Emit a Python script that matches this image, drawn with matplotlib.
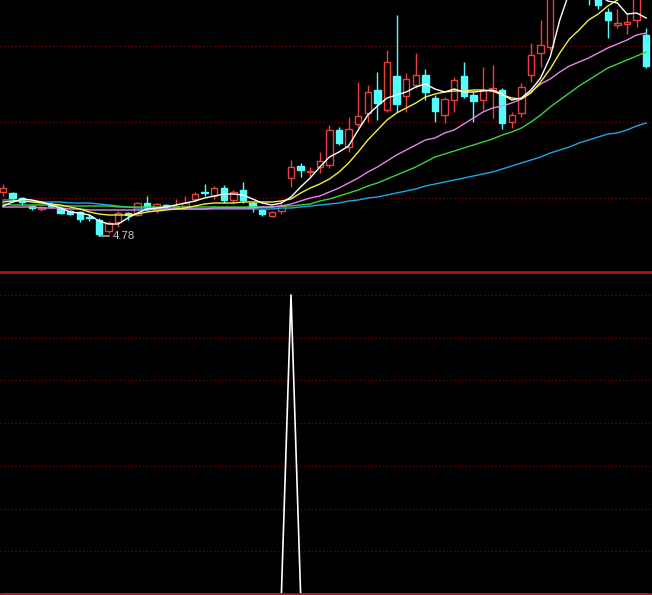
import numpy as np
import matplotlib.pyplot as plt
from matplotlib.patches import Rectangle

# daily bars (price)
opens = [5.66, 5.64, 5.54, 5.38, 5.32, 5.40, 5.34, 5.28, 5.26, 5.16,
         5.10, 4.88, 5.06, 5.24, 5.20, 5.44, 5.30, 5.40, 5.36, 5.38,
         5.52, 5.66, 5.58, 5.74, 5.50, 5.70, 5.44, 5.30, 5.18, 5.28,
         5.94, 6.18, 6.06, 6.16, 6.20, 6.90, 6.56, 7.02, 7.24, 7.70,
         7.30, 7.98, 7.58, 7.80, 8.00, 7.54, 7.20, 7.50, 7.98, 7.60,
         7.50, 7.68, 7.70, 7.06, 7.24, 8.00, 8.44, 8.56, 9.70, 10.30,
         9.90, 10.10, 9.56, 9.26, 9.00, 9.02, 9.10, 8.80]
closes = [5.74, 5.54, 5.46, 5.34, 5.36, 5.38, 5.24, 5.22, 5.12, 5.14,
          4.82, 5.04, 5.24, 5.20, 5.44, 5.32, 5.42, 5.36, 5.38, 5.44,
          5.62, 5.64, 5.74, 5.50, 5.66, 5.50, 5.36, 5.22, 5.26, 5.38,
          6.16, 6.10, 6.08, 6.28, 6.90, 6.64, 6.92, 7.18, 7.66, 7.44,
          8.26, 7.42, 7.92, 8.00, 7.66, 7.28, 7.52, 7.90, 7.58, 7.48,
          7.70, 7.74, 7.04, 7.20, 7.76, 8.40, 8.60, 9.70, 10.50, 9.90,
          10.40, 9.70, 9.40, 9.10, 9.04, 9.06, 9.60, 8.18]
highs = [5.82, 5.66, 5.56, 5.40, 5.38, 5.46, 5.36, 5.30, 5.28, 5.22,
         5.14, 5.08, 5.28, 5.26, 5.46, 5.58, 5.44, 5.42, 5.52, 5.58,
         5.66, 5.82, 5.78, 5.80, 5.70, 5.86, 5.46, 5.32, 5.28, 5.44,
         6.30, 6.24, 6.16, 6.46, 7.00, 6.96, 7.16, 7.86, 7.80, 8.06,
         8.50, 9.20, 8.04, 8.44, 8.12, 7.60, 7.56, 7.96, 8.26, 7.66,
         8.16, 8.20, 7.74, 7.26, 7.84, 8.64, 9.10, 9.90, 10.70, 10.70,
         10.60, 10.30, 9.70, 9.34, 9.32, 9.24, 9.70, 8.94]
lows = [5.58, 5.46, 5.40, 5.30, 5.28, 5.34, 5.22, 5.20, 5.06, 5.08,
        4.78, 4.84, 4.96, 5.10, 5.18, 5.28, 5.24, 5.34, 5.34, 5.34,
        5.46, 5.58, 5.52, 5.44, 5.44, 5.44, 5.26, 5.18, 5.16, 5.22,
        5.76, 5.96, 5.96, 6.04, 6.14, 6.60, 6.46, 6.96, 7.06, 7.10,
        7.26, 7.26, 7.26, 7.74, 7.50, 7.06, 7.04, 7.26, 7.54, 7.06,
        7.30, 7.14, 6.92, 6.94, 7.16, 7.86, 8.16, 8.50, 9.60, 9.74,
        9.70, 9.40, 9.32, 8.74, 8.94, 8.82, 8.96, 8.14]

# moving averages
ma5 = [5.38, 5.46, 5.52, 5.50, 5.46, 5.40, 5.34, 5.26, 5.24, 5.20,
       5.08, 5.02, 5.02, 5.14, 5.24, 5.32, 5.34, 5.36, 5.40, 5.44,
       5.48, 5.54, 5.58, 5.62, 5.62, 5.60, 5.52, 5.44, 5.40, 5.44,
       5.56, 5.76, 5.94, 6.16, 6.36, 6.46, 6.58, 6.90, 7.20, 7.38,
       7.54, 7.60, 7.66, 7.76, 7.82, 7.72, 7.66, 7.72, 7.66, 7.66,
       7.68, 7.70, 7.62, 7.50, 7.54, 7.70, 7.94, 8.36, 9.10, 9.66,
       9.90, 9.74, 9.60, 9.48, 9.44, 9.22, 9.24, 9.14]
ma10 = [5.46, 5.48, 5.48, 5.46, 5.44, 5.42, 5.40, 5.36, 5.32, 5.26,
        5.22, 5.20, 5.20, 5.20, 5.22, 5.26, 5.28, 5.30, 5.32, 5.34,
        5.38, 5.42, 5.44, 5.44, 5.44, 5.46, 5.46, 5.46, 5.46, 5.48,
        5.52, 5.64, 5.74, 5.82, 5.92, 6.06, 6.24, 6.46, 6.70, 6.90,
        7.10, 7.24, 7.34, 7.44, 7.56, 7.62, 7.66, 7.68, 7.68, 7.70,
        7.70, 7.68, 7.60, 7.54, 7.52, 7.64, 7.86, 8.12, 8.44, 8.72,
        8.90, 9.10, 9.22, 9.38, 9.50, 9.58, 9.66, 9.70]
ma20 = [5.36, 5.36, 5.36, 5.36, 5.34, 5.34, 5.34, 5.32, 5.32, 5.30,
        5.30, 5.30, 5.30, 5.30, 5.30, 5.30, 5.32, 5.32, 5.32, 5.32,
        5.32, 5.32, 5.34, 5.34, 5.34, 5.34, 5.34, 5.36, 5.36, 5.38,
        5.42, 5.48, 5.54, 5.58, 5.66, 5.74, 5.84, 5.94, 6.06, 6.16,
        6.28, 6.40, 6.50, 6.60, 6.70, 6.74, 6.84, 6.90, 7.02, 7.14,
        7.26, 7.34, 7.38, 7.44, 7.52, 7.66, 7.82, 7.92, 8.06, 8.18,
        8.26, 8.34, 8.44, 8.54, 8.62, 8.70, 8.80, 8.84]
ma30 = [5.42, 5.40, 5.40, 5.40, 5.40, 5.40, 5.38, 5.38, 5.38, 5.38,
        5.38, 5.38, 5.36, 5.36, 5.36, 5.36, 5.36, 5.36, 5.36, 5.36,
        5.36, 5.36, 5.36, 5.36, 5.36, 5.36, 5.36, 5.36, 5.36, 5.38,
        5.38, 5.40, 5.42, 5.48, 5.52, 5.58, 5.64, 5.70, 5.78, 5.84,
        5.92, 6.00, 6.08, 6.16, 6.26, 6.36, 6.42, 6.48, 6.54, 6.60,
        6.66, 6.72, 6.80, 6.86, 6.94, 7.06, 7.20, 7.36, 7.50, 7.64,
        7.78, 7.90, 8.02, 8.14, 8.22, 8.30, 8.38, 8.46]
ma60 = [5.50, 5.50, 5.48, 5.48, 5.46, 5.46, 5.46, 5.44, 5.44, 5.44,
        5.42, 5.40, 5.38, 5.36, 5.34, 5.34, 5.32, 5.32, 5.32, 5.32,
        5.32, 5.32, 5.32, 5.32, 5.32, 5.32, 5.32, 5.32, 5.32, 5.34,
        5.34, 5.36, 5.38, 5.40, 5.42, 5.44, 5.48, 5.50, 5.54, 5.56,
        5.60, 5.64, 5.68, 5.72, 5.78, 5.82, 5.86, 5.90, 5.94, 5.98,
        6.02, 6.06, 6.12, 6.18, 6.24, 6.30, 6.36, 6.44, 6.50, 6.56,
        6.64, 6.70, 6.76, 6.82, 6.84, 6.90, 6.98, 7.04]

# buy signal indicator (lower panel)
signal = [0, 0, 0, 0, 0, 0, 0, 0, 0, 0,
          0, 0, 0, 0, 0, 0, 0, 0, 0, 0,
          0, 0, 0, 0, 0, 0, 0, 0, 0, 0,
          1, 0, 0, 0, 0, 0, 0, 0, 0, 0,
          0, 0, 0, 0, 0, 0, 0, 0, 0, 0,
          0, 0, 0, 0, 0, 0, 0, 0, 0, 0,
          0, 0, 0, 0, 0, 0, 0, 0]

RED = '#E8413C'
CYAN = '#54FCFC'
GRID = '#800000'
SEP = '#B01018'

fig = plt.figure(figsize=(6.52, 5.95), dpi=100, facecolor='black')
ax = fig.add_axes([0, 1 - 272 / 595, 1, 272 / 595], facecolor='black')
ax2 = fig.add_axes([0, 1 / 595, 1, 320 / 595], facecolor='black')

x = np.arange(len(closes))
w = 0.68

# candles
for i in x:
    o, c, h, l = opens[i], closes[i], highs[i], lows[i]
    up = c >= o
    col = RED if up else CYAN
    ax.vlines(i, l, h, color=col, lw=1, zorder=2)
    ax.add_patch(Rectangle((i - w / 2, min(o, c)), w, max(abs(c - o), 0.005),
                           facecolor='black' if up else col, edgecolor=col,
                           lw=1, zorder=3))

# moving averages
ax.plot(x, ma60, color='#1EA6E6', lw=1, zorder=4)
ax.plot(x, ma30, color='#3CD23C', lw=1, zorder=4)
ax.plot(x, ma20, color='#E088E8', lw=1, zorder=4)
ax.plot(x, ma10, color='#F0F040', lw=1, zorder=4)
ax.plot(x, ma5, color='white', lw=1, zorder=5)

# lowest low marker
imin = int(np.argmin(lows))
ax.annotate(f'{lows[imin]:.2f}', xy=(imin, lows[imin]), xytext=(9.5, 0),
            textcoords='offset points', ha='left', va='center',
            color='#C8C8C8', fontsize=8.2, family='Liberation Sans',
            arrowprops=dict(arrowstyle='-', color='#C8C8C8', lw=1,
                            shrinkA=0, shrinkB=0), zorder=6)

ax.set_xlim(-3 / 9.6, 649 / 9.6)
ax.set_ylim(4.06, 9.5)
ax.set_yticks([5.54, 7.06, 8.58])
ax.grid(axis='y', color=GRID, linestyle=(0, (1, 2)), lw=0.9)
ax.set_xticks([])
ax.tick_params(left=False, labelleft=False)
for s in ['top', 'left', 'right']:
    ax.spines[s].set_visible(False)
ax.spines['bottom'].set_color(SEP)
ax.spines['bottom'].set_linewidth(2)

# indicator panel
ax2.plot(x, signal, color='white', lw=1.2, zorder=3)
ax2.set_xlim(-3 / 9.6, 649 / 9.6)
ax2.set_ylim(0, 1.07)
ax2.set_yticks(np.arange(1, 8) / 7)
ax2.grid(axis='y', color=GRID, linestyle=(0, (1, 2)), lw=0.9)
ax2.set_xticks([])
ax2.tick_params(left=False, labelleft=False)
for s in ['top', 'left', 'right']:
    ax2.spines[s].set_visible(False)
ax2.spines['bottom'].set_color(SEP)
ax2.spines['bottom'].set_linewidth(2)
ax2.spines['bottom'].set_zorder(5)

fig.savefig('out.png', dpi=100, facecolor='black')
